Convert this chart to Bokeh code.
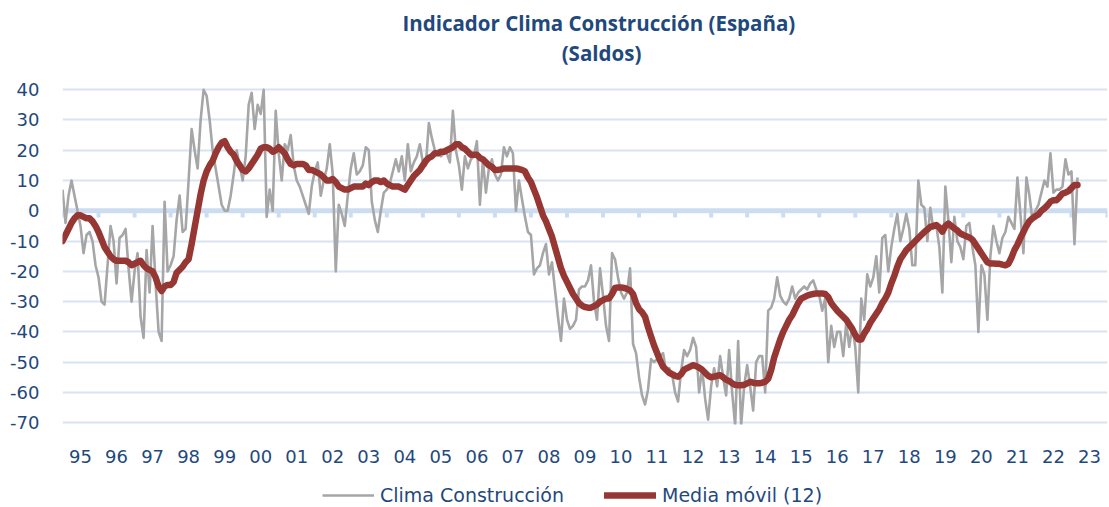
from bokeh.plotting import figure
from bokeh.layouts import column
from bokeh.models import Range1d, FixedTicker, Span, Label, Legend, LegendItem
from bokeh.embed import file_html
from bokeh.resources import INLINE

start_year = 1995
year_labels = ["95", "96", "97", "98", "99", "00", "01", "02", "03", "04", "05", "06", "07", "08",
               "09", "10", "11", "12", "13", "14", "15", "16", "17", "18", "19", "20", "21", "22", "23"]
y_ticks = [-70, -60, -50, -40, -30, -20, -10, 0, 10, 20, 30, 40]
title_lines = ["Indicador Clima Construcción  (España)", "(Saldos)"]
series_names = ["Clima Construcción", "Media móvil (12)"]

# Clima Construcción (monthly, Jan 1995 - Mar 2023)
clima = [
    7, -4, 5, 10, 5, 0, -5, -14, -8, -7, -10, -18,            # 1995
    -22, -30, -31, -18, -5, -10, -24, -9, -8, -6, -19, -30,   # 1996
    -20, -14, -35, -42, -13, -27, -5, -24, -40, -43, 3, -20,  # 1997
    -18, -15, -3, 5, -7, -6, 10, 27, 20, 14, 30, 40,          # 1998
    38, 30, 20, 14, 8, 2, 0, 0, 5, 12, 20, 15,                # 1999
    10, 18, 35, 39, 27, 35, 32, 40, -2, 7, 0, 33,             # 2000
    19, 10, 22, 20, 25, 15, 10, 8, 5, 2, -1, 8,               # 2001
    13, 16, 5, 10, 14, 22, 12, -20, 2, -1, -5, 5,             # 2002
    14, 19, 12, 13, 15, 21, 20, 3, -3, -7, 0, 6,              # 2003
    7, 9, 13, 17, 13, 18, 10, 22, 13, 16, 18, 22,             # 2004
    16, 15, 29, 24, 20, 19, 18, 19, 19, 16, 33, 20,           # 2005
    15, 7, 18, 14, 17, 18, 23, 2, 17, 6, 14, 17,              # 2006
    12, 10, 12, 21, 18, 21, 19, 0, 10, 4, -2, -7,             # 2007
    -8, -21, -19, -18, -14, -11, -21, -17, -26, -35, -43, -29,  # 2008
    -36, -39, -38, -36, -26, -25, -25, -23, -18, -30, -36, -19,  # 2009
    -28, -38, -43, -14, -16, -22, -27, -29, -27, -19, -44, -47,  # 2010
    -55, -61, -64, -59, -49, -50, -49, -48, -47, -53, -52, -54,  # 2011
    -60, -63, -53, -46, -48, -46, -42, -45, -60, -52, -62, -69,  # 2012
    -58, -52, -58, -48, -55, -61, -46, -60, -71, -43, -71, -58,  # 2013
    -51, -58, -66, -50, -48, -48, -60, -33, -32, -29, -22, -28,  # 2014
    -30, -31, -29, -25, -29, -27, -26, -25, -26, -24, -23, -26,  # 2015
    -28, -33, -29, -50, -38, -45, -40, -40, -48, -37, -45, -38,  # 2016
    -45, -60, -29, -36, -21, -25, -22, -15, -27, -9, -8, -20,    # 2017
    -12, -6, -1, -10, -6, -1, -6, -18, -18, 10, 2, 1,            # 2018
    -10, 1, -6, -5, -12, -27, 8, -3, -17, -2, -10, -12,          # 2019
    -16, -5, -4, -12, -18, -40, -18, -21, -36, -15, -5, -10,     # 2020
    -14, -9, -7, -2, -4, -6, 11, -1, -14, 11, 5, -3,             # 2021
    0, 2, 6, 10, 8, 19, 6, 7, 7, 8, 17, 12,                      # 2022
    13, -11, 11,                                                 # 2023
]

# Media móvil (12)
media = [
    -10, -8, -6, -4, -2.5, -1.5, -1.5, -2, -2.5, -2.5, -3.5, -5,                 # 1995
    -7, -9.5, -12, -13.5, -15, -16, -16.5, -16.5, -16.5, -16.5, -17, -18,        # 1996
    -17.5, -17, -16.5, -18, -19, -19.5, -20, -22, -25, -26.5, -25, -24.5,        # 1997
    -24.5, -23.5, -20.5, -19.5, -18.5, -17, -16, -11, -5.5, 0, 5.5, 10,          # 1998
    13, 15, 16.5, 19, 21, 22.5, 23, 21, 19.5, 18.5, 16.5, 15,                    # 1999
    13.5, 13, 14, 15.5, 17, 18.5, 20.5, 21, 21, 20.5, 19.5, 20,                  # 2000
    21, 20, 19, 17, 15.5, 15, 15.5, 15.5, 15.5, 15, 13.5, 13.5,                  # 2001
    13, 12.5, 12, 11, 10, 10, 10.5, 9.5, 8, 7.5, 7, 7,                           # 2002
    7.5, 8, 8, 8, 8, 9, 8.5, 9.5, 10, 10, 9.5, 10,                               # 2003
    9, 8.5, 8, 8, 8, 7.5, 7, 8.5, 10, 11.5, 12.5, 13.5,                          # 2004
    15, 16.5, 17.5, 18, 19, 19, 19.5, 19.5, 20, 20.5, 21, 22,                    # 2005
    22, 21, 20.5, 19.5, 18.5, 18.5, 18.5, 17.5, 17, 16, 15, 14.5,                # 2006
    13.5, 13.5, 13.7, 14, 14, 14, 14, 14, 13.8, 13.5, 13, 11,                    # 2007
    9.5, 7, 4.5, 1.5, -1.5, -3.5, -6, -8.5, -12, -15.5, -19, -21.5,              # 2008
    -23.5, -25.5, -27.5, -29, -30.5, -31.3, -31.8, -32, -32, -31.5, -31, -30,    # 2009
    -29.5, -29, -29, -27.5, -25.5, -25.3, -25.3, -25.5, -25.8, -26.3, -27.5, -30.5,  # 2010
    -32.5, -33.5, -35, -38.5, -41.5, -44.5, -47, -49.5, -51.5, -52.5, -53.5, -54,    # 2011
    -54.5, -54.8, -54, -52.5, -52, -51.5, -51, -51.3, -51.8, -52.5, -53.5, -54.5,    # 2012
    -55, -54.8, -54.5, -54.3, -55, -55.8, -56.2, -57, -57.5, -57.6, -57.6, -57.5,    # 2013
    -57, -56.5, -56.8, -57, -57, -56.8, -56.5, -55.5, -52.6, -48.5, -45.5, -42.5,    # 2014
    -40, -38, -36, -34.5, -32.5, -30.5, -29, -28.5, -28, -27.7, -27.5, -27.3,        # 2015
    -27.3, -27.3, -27.5, -28.5, -30.5, -31.8, -33, -34, -35, -36, -37.5, -39,        # 2016
    -41, -42.5, -42.5, -40.5, -39, -37, -35.5, -34, -32.5, -30.5, -29, -27,          # 2017
    -24, -21.5, -18.5, -16, -14.5, -13, -12, -11, -10, -9, -8, -7,                   # 2018
    -6.2, -5.3, -5, -4.7, -5.5, -6.9, -5, -4.2, -5, -5.8, -6.5, -7.5,                # 2019
    -8, -8.4, -8.8, -9.5, -11, -12.5, -14, -15.5, -17, -17.4, -17.4, -17.5,          # 2020
    -17.5, -17.8, -18, -17.5, -15.5, -13, -11.2, -9, -7, -5, -3.4, -2.5,             # 2021
    -1.8, -1.2, 0, 0.8, 1.8, 3, 3.5, 3.5, 4.5, 5.7, 6, 6.5,                          # 2022
    7.5, 8.5, 8.5,                                                                   # 2023
]

x_clima = [start_year + i / 12 for i in range(len(clima))]
x_media = [start_year + i / 12 for i in range(len(media))]
n_years = len(year_labels)
year_edges = [start_year + k for k in range(n_years + 1)]
year_centers = [start_year + k + 0.5 for k in range(n_years)]

BLUE = "#1F497D"
GRID = "#D9E4F3"
ZERO = "#CCDDF1"
GRAY_STYLE = dict(line_color="#A6A6A6", line_width=2.6, line_join="round")
RED_STYLE = dict(line_color="#963733", line_width=6.5, line_join="round", line_cap="round")

# geometry (pixels)
W = 1108
LEFT, RIGHT = 62, 1
FRAME_W = W - LEFT - RIGHT
FRAME_H = 424                  # frame starts at canvas top; title sits in its empty upper part
AXIS_H = 46
LEGEND_H = 36
Y_MIN = -70.6
PX_PER_UNIT = 3.027
Y_TOP = Y_MIN + FRAME_H / PX_PER_UNIT


def y_at(canvas_y):
    return Y_TOP - canvas_y / PX_PER_UNIT


p = figure(width=W, height=FRAME_H + AXIS_H,
           min_border_left=LEFT, min_border_right=RIGHT, min_border_top=0, min_border_bottom=AXIS_H,
           x_range=Range1d(start_year, start_year + n_years), y_range=Range1d(Y_MIN, Y_TOP),
           output_backend="svg", toolbar_location=None)
p.outline_line_color = None
p.background_fill_color = "white"
p.border_fill_color = "white"

# grid
p.xgrid.visible = False
p.ygrid.ticker = FixedTicker(ticks=[t for t in y_ticks if t != 0])
p.ygrid.grid_line_color = GRID
p.ygrid.grid_line_width = 2

# zero line with year ticks
p.add_layout(Span(location=0, dimension="width", line_color=ZERO, line_width=5, level="underlay"))
p.segment(x0=year_edges, y0=[0] * len(year_edges), x1=year_edges, y1=[-2.2] * len(year_edges),
          line_color=ZERO, line_width=4)

# series
p.line(x_clima, clima, **GRAY_STYLE)
p.line(x_media, media, **RED_STYLE)

# axes
p.yaxis.ticker = FixedTicker(ticks=y_ticks)
p.yaxis.major_label_overrides = {t: str(t) for t in y_ticks}
p.xaxis.ticker = FixedTicker(ticks=year_centers)
p.xaxis.major_label_overrides = {c: lab for c, lab in zip(year_centers, year_labels)}
for ax in (p.xaxis[0], p.yaxis[0]):
    ax.axis_line_color = None
    ax.major_tick_line_color = None
    ax.minor_tick_line_color = None
    ax.major_tick_out = 0
    ax.major_tick_in = 0
    ax.minor_tick_out = 0
    ax.major_label_text_font = "DejaVu Sans"
    ax.major_label_text_font_size = "18px"
    ax.major_label_text_color = BLUE
p.yaxis.major_label_standoff = 23
p.xaxis.major_label_standoff = 25

# two-line title inside the empty upper part of the frame
title_x = start_year + n_years * (539 / FRAME_W)
for txt, cy in zip(title_lines, (22, 52)):
    p.add_layout(Label(x=title_x, y=y_at(cy), text=txt,
                       text_font="Open Sans", text_font_style="bold", text_font_size="20.5px",
                       text_color=BLUE, text_align="center", text_baseline="middle"))

# legend strip (same series drawn outside its visible range, only their legend glyphs show)
lg = figure(width=W, height=LEGEND_H, min_border=0, x_range=Range1d(0, 1), y_range=Range1d(0, 1),
            x_axis_type=None, y_axis_type=None, output_backend="svg", toolbar_location=None)
lg.outline_line_color = None
lg.grid.visible = False
lg_gray = lg.line(x_clima, clima, **GRAY_STYLE)
lg_red = lg.line(x_media, media, **RED_STYLE)
legend = Legend(items=[LegendItem(label=series_names[0], renderers=[lg_gray]),
                       LegendItem(label=series_names[1], renderers=[lg_red])],
                orientation="horizontal", location=(260, 0),
                glyph_width=52, glyph_height=20, label_standoff=6, spacing=40,
                padding=0, margin=0, label_height=20,
                label_text_font="DejaVu Sans", label_text_font_size="19px", label_text_color=BLUE,
                background_fill_alpha=0, border_line_color=None)
lg.add_layout(legend, "center")

layout = column(p, lg, spacing=0)
open("out.html", "w").write(file_html(layout, INLINE))
